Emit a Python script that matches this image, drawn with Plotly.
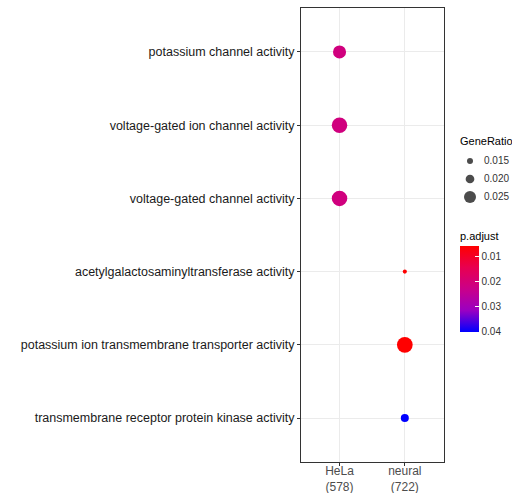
import plotly.graph_objects as go

# ---- data ----
terms = [
    "potassium channel activity",
    "voltage-gated ion channel activity",
    "voltage-gated channel activity",
    "acetylgalactosaminyltransferase activity",
    "potassium ion transmembrane transporter activity",
    "transmembrane receptor protein kinase activity",
]
clusters = ["HeLa<br>(578)", "neural<br>(722)"]

point_cluster = ["HeLa<br>(578)", "HeLa<br>(578)", "HeLa<br>(578)",
                 "neural<br>(722)", "neural<br>(722)", "neural<br>(722)"]
point_term = terms
gene_ratio = [0.0264, 0.0295, 0.0295, 0.0105, 0.0298, 0.0188]
p_adjust = [0.0215, 0.0215, 0.0215, 0.0060, 0.0060, 0.0402]

size_breaks = [0.015, 0.020, 0.025]
size_labels = ["0.015", "0.020", "0.025"]
p_ticks = [0.01, 0.02, 0.03, 0.04]
p_min, p_max = 0.0060, 0.0402


def dot_size(r):
    x = (r - 0.020) / 0.005
    return 8.7 + 3.0 * x + 0.3 * x * x


font_family = "Liberation Sans, Arial, Helvetica, sans-serif"

W, H = 512, 493
ML, MR, MT, MB = 301, 0, 8, 31
PW = W - ML - MR          # paper width in px
PH = H - MT - MB          # paper height in px


def px_x(px):
    return (px - ML) / PW


def px_y(py):
    return (H - MB - py) / PH


colorscale = [
    [0.0, "#0000FF"],
    [0.25, "#9A00C2"],
    [0.5, "#CA0089"],
    [0.75, "#E80050"],
    [1.0, "#FF0000"],
]

fig = go.Figure()

fig.add_trace(go.Scatter(
    x=point_cluster,
    y=point_term,
    mode="markers",
    showlegend=False,
    hoverinfo="skip",
    marker=dict(
        size=[dot_size(v) for v in gene_ratio],
        color=[-v for v in p_adjust],
        cmin=-p_max,
        cmax=-p_min,
        colorscale=colorscale,
        line=dict(width=0),
        opacity=1,
        colorbar=dict(
            title=dict(text="p.adjust", side="top",
                       font=dict(size=11, color="#000000", family=font_family)),
            tickvals=[-v for v in p_ticks],
            ticktext=[f"{v:.2f}" for v in p_ticks],
            ticks="inside",
            ticklen=4,
            tickcolor="white",
            tickwidth=1,
            tickfont=dict(size=10, color="#333333", family=font_family),
            thickness=19,
            thicknessmode="pixels",
            len=103,
            lenmode="pixels",
            x=px_x(460),
            xanchor="left",
            y=px_y(332),
            yanchor="bottom",
            xpad=0,
            ypad=0,
            outlinewidth=0,
        ),
    ),
))

# size legend (GeneRatio) drawn on its own small axes
fig.add_trace(go.Scatter(
    x=[0.0] * len(size_breaks),
    y=size_labels,
    mode="markers",
    showlegend=False,
    hoverinfo="skip",
    marker=dict(size=[dot_size(v) for v in size_breaks], color="#000000",
                line=dict(width=0)),
    xaxis="x2",
    yaxis="y2",
))
fig.add_trace(go.Scatter(
    x=[1.0] * len(size_breaks),
    y=size_labels,
    mode="text",
    text=size_labels,
    textposition="middle right",
    textfont=dict(size=10, color="#333333", family=font_family),
    showlegend=False,
    hoverinfo="skip",
    xaxis="x2",
    yaxis="y2",
))

fig.add_annotation(
    text="GeneRatio", xref="paper", yref="paper",
    x=px_x(458), y=px_y(141), xanchor="left", yanchor="middle",
    showarrow=False, font=dict(size=11, color="#000000", family=font_family),
)

fig.update_layout(
    width=W,
    height=H,
    margin=dict(l=ML, r=MR, t=MT, b=MB, autoexpand=False),
    paper_bgcolor="white",
    plot_bgcolor="white",
    font=dict(family=font_family, color="#333333"),
    showlegend=False,
    xaxis=dict(domain=[0, px_x(444)]),
    xaxis2=dict(domain=[px_x(460), px_x(512)], range=[-10 / 14, 42 / 14],
                anchor="y2", visible=False, fixedrange=True),
    yaxis2=dict(domain=[px_y(206), px_y(152)], type="category",
                categoryorder="array", categoryarray=list(reversed(size_labels)),
                range=[-0.5, 2.5], anchor="x2", visible=False, fixedrange=True),
)

fig.layout.xaxis.update(
    type="category",
    categoryorder="array",
    categoryarray=clusters,
    range=[-0.59, 1.6],
    showgrid=True,
    gridcolor="#EBEBEB",
    gridwidth=1,
    showline=True,
    linecolor="#333333",
    linewidth=1,
    mirror=True,
    ticks="outside",
    ticklen=3,
    tickcolor="#333333",
    tickfont=dict(size=12, color="#4D4D4D"),
    ticklabelstandoff=-5,
    zeroline=False,
    fixedrange=True,
    automargin=False,
)

fig.layout.yaxis.update(
    type="category",
    categoryorder="array",
    categoryarray=list(reversed(terms)),
    range=[-0.6, 5.6],
    showgrid=True,
    gridcolor="#EBEBEB",
    gridwidth=1,
    showline=True,
    linecolor="#333333",
    linewidth=1,
    mirror=True,
    ticks="outside",
    ticklen=3,
    tickcolor="#333333",
    tickfont=dict(size=12.5, color="#1a1a1a"),
    zeroline=False,
    fixedrange=True,
    automargin=False,
)

fig.write_html("out.html")
